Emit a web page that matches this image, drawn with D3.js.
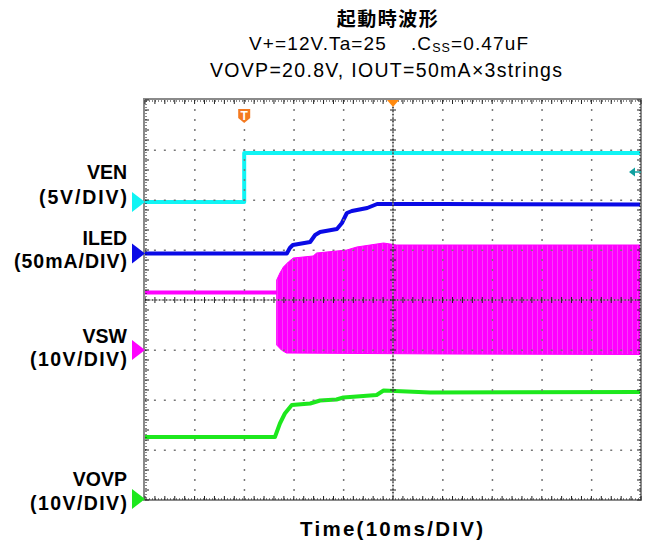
<!DOCTYPE html>
<html><head><meta charset="utf-8">
<script src="https://cdn.jsdelivr.net/npm/d3@7"></script>
<style>
body{margin:0;background:#fff;}
svg{display:block;font-family:"Liberation Sans",Arial,sans-serif;}
</style>
</head><body>
<svg id="c" width="648" height="547"></svg>
<script>
// ---------- data ----------
const channels = ["VEN", "ILED", "VSW", "VOVP"];
const scaleLabels = ["(5V/DIV)", "(50mA/DIV)", "(10V/DIV)", "(10V/DIV)"];
const unitsPerDiv = [5, 50, 10, 10];
const groundDiv = [1.96, 0.93, -1.0, -3.98];
const colors = ["#10f4f4", "#0a0ae6", "#ff00ff", "#1de81d"];

const timeTicks = [0, 10, 20, 30, 40, 50, 60, 70, 80, 90, 100]; // ms
const divTicks = [-4, -3, -2, -1, 0, 1, 2, 3, 4];

const venT = [0, 20, 20, 100];
const venV = [0, 0, 4.9, 4.9];

const iledT = [0, 28.6, 29.2, 29.8, 33.3, 34.3, 35.3, 38.7, 39.7, 40.7, 41.7, 44.8, 46.8, 60, 100];
const iledV = [0, 0, 5.5, 8.5, 11.5, 18.5, 21.5, 24.5, 30.5, 40.5, 42.5, 45.5, 49.5, 49.5, 49];

const vswBaseT = [0, 26.6];
const vswBaseV = [11.5, 11.5];
const vswTopT = [26.55, 27.2, 27.9, 28.9, 29.9, 33.9, 34.6, 40.7, 42.7, 48.1, 50.7, 57.5, 100];
const vswTopV = [14, 15.4, 16.6, 17.6, 18.4, 18.8, 19.4, 20, 20.6, 21.4, 21, 21, 21];
const vswBotT = [26.55, 27.5, 28.5, 60, 100];
const vswBotV = [1, 0, -0.6, -0.8, -0.9];

const vovpT = [0, 26.2, 27.2, 28.2, 29.6, 33.3, 35.3, 38.6, 40, 46.7, 48.1, 57.5, 100];
const vovpV = [12.4, 12.4, 15.1, 17.1, 18.8, 19.1, 19.7, 19.9, 20.3, 20.8, 21.7, 21.3, 21.4];

const triggerTime = 20;     // ms
const triggerLevel = 3.0;   // V on VEN
const horizPos = 50;        // ms

// ---------- layout ----------
const L = 145, R = 641, T = 100, B = 500;
const svg = d3.select("#c");
const x = d3.scaleLinear().domain([0, 100]).range([L, R]);
const y = d3.scaleLinear().domain([-4, 4]).range([B, T]);
const yCh = (i, v) => y(groundDiv[i] + v / unitsPerDiv[i]);

// ---------- titles ----------
svg.append("text").attr("x", 388).attr("y", 26).attr("text-anchor", "middle")
  .attr("font-family", "'Noto Sans CJK JP', sans-serif").attr("font-weight", "bold")
  .attr("font-size", 19).attr("letter-spacing", 1.5).text("起動時波形");
const t2 = svg.append("text").attr("x", 249).attr("y", 50).attr("font-size", 19)
  .attr("textLength", 279).attr("lengthAdjust", "spacing");
t2.append("tspan").text("V+=12V.Ta=25");
t2.append("tspan").attr("dx", 24).text(".C");
t2.append("tspan").attr("font-size", 12.5).attr("dy", 2).text("SS");
t2.append("tspan").attr("dy", -2).text("=0.47uF");
svg.append("text").attr("x", 210).attr("y", 77).attr("font-size", 19.5)
  .attr("textLength", 352).attr("lengthAdjust", "spacing")
  .text("VOVP=20.8V, IOUT=50mA\u00d73strings");

// ---------- traces ----------
const gTr = svg.append("g");
const line = d3.line().x(d => x(d[0])).y(d => d[1]);

// VSW band
const topPts = vswTopT.map((t, k) => [t, yCh(2, vswTopV[k])]);
const botPts = vswBotT.map((t, k) => [t, yCh(2, vswBotV[k])]).reverse();
const defs = svg.append("defs");
const pat = defs.append("pattern").attr("id", "streak").attr("patternUnits", "userSpaceOnUse")
  .attr("width", 5).attr("height", 6);
pat.append("rect").attr("width", 5).attr("height", 6).attr("fill", "#ff00ff");
pat.append("rect").attr("x", 2).attr("width", 1).attr("height", 6).attr("fill", "#f070f0").attr("opacity", 0.55);
gTr.append("path").attr("d", line(topPts.concat(botPts)) + "Z")
  .attr("fill", "url(#streak)").attr("stroke", "#ff00ff").attr("stroke-width", 1);
gTr.append("path").attr("d", line(vswBaseT.map((t, k) => [t, yCh(2, vswBaseV[k])])))
  .attr("fill", "none").attr("stroke", colors[2]).attr("stroke-width", 4);

const traces = [
  [0, venT, venV], [1, iledT, iledV], [3, vovpT, vovpV]
];
traces.forEach(([i, ts, vs]) => {
  gTr.append("path").attr("d", line(ts.map((t, k) => [t, yCh(i, vs[k])])))
    .attr("fill", "none").attr("stroke", colors[i]).attr("stroke-width", 4)
    .attr("stroke-linejoin", "round");
});

// ---------- grid ----------
const gG = svg.append("g");
const minorX = d3.range(0, 100.01, 2);
const minorY = d3.range(-4, 4.001, 0.2);
timeTicks.filter(t => t > 0 && t < 100 && t !== 50).forEach(t => {
  minorY.forEach(d => {
    gG.append("rect").attr("x", x(t) - 0.5).attr("y", y(d) - 1).attr("width", 1.5).attr("height", 2).attr("fill", "#777");
  });
});
divTicks.filter(d => d > -4 && d < 4 && d !== 0).forEach(d => {
  minorX.forEach(t => {
    gG.append("rect").attr("x", x(t) - 1).attr("y", y(d) - 0.5).attr("width", 2).attr("height", 1.5).attr("fill", "#777");
  });
});
gG.append("line").attr("x1", x(50)).attr("x2", x(50)).attr("y1", T).attr("y2", B).attr("stroke", "#999").attr("stroke-width", 1);
gG.append("line").attr("x1", L).attr("x2", R).attr("y1", y(0)).attr("y2", y(0)).attr("stroke", "#999").attr("stroke-width", 1);
gG.append("line").attr("x1", x(50)).attr("x2", x(50)).attr("y1", T).attr("y2", B).attr("stroke", "#111").attr("stroke-width", 1.2).attr("stroke-dasharray", "1.2,2.3");
gG.append("line").attr("x1", L).attr("x2", R).attr("y1", y(0)).attr("y2", y(0)).attr("stroke", "#111").attr("stroke-width", 1.2).attr("stroke-dasharray", "1.2,2.3");
minorY.forEach(d => gG.append("line").attr("x1", x(50) - 3).attr("x2", x(50) + 3).attr("y1", y(d)).attr("y2", y(d)).attr("stroke", "#222").attr("stroke-width", 1));
minorX.forEach(t => gG.append("line").attr("x1", x(t)).attr("x2", x(t)).attr("y1", y(0) - 3).attr("y2", y(0) + 3).attr("stroke", "#222").attr("stroke-width", 1));
gG.append("rect").attr("x", L - 1).attr("y", T - 1).attr("width", R - L + 1).attr("height", B - T + 1)
  .attr("fill", "none").attr("stroke", "#8a8a8a").attr("stroke-width", 2);
[[L + 1, T + 1, R - 1, T + 1], [L + 1, B - 1, R - 1, B - 1], [L + 1, T + 1, L + 1, B - 1], [R - 1, T + 1, R - 1, B - 1]]
  .forEach(([a, b, c, e]) => gG.append("line").attr("x1", a).attr("y1", b).attr("x2", c).attr("y2", e)
    .attr("stroke", "#111").attr("stroke-width", 1).attr("stroke-dasharray", "1,2"));
minorX.forEach(t => {
  gG.append("line").attr("x1", x(t)).attr("x2", x(t)).attr("y1", T).attr("y2", T + 4).attr("stroke", "#222");
  gG.append("line").attr("x1", x(t)).attr("x2", x(t)).attr("y1", B - 4).attr("y2", B).attr("stroke", "#222");
});
minorY.forEach(d => {
  gG.append("line").attr("x1", L).attr("x2", L + 4).attr("y1", y(d)).attr("y2", y(d)).attr("stroke", "#222");
  gG.append("line").attr("x1", R - 4).attr("x2", R).attr("y1", y(d)).attr("y2", y(d)).attr("stroke", "#222");
});

// ---------- markers ----------
channels.forEach((c, i) => {
  const gy = y(groundDiv[i]);
  svg.append("path").attr("d", `M${L},${gy} L${L - 13},${gy - 10} L${L - 13},${gy + 10} Z`).attr("fill", colors[i]);
});
const tx = x(triggerTime);
svg.append("path").attr("d", `M${tx - 6},${T + 9} h12 v9 l-6,5 l-6,-5 Z`).attr("fill", "#f47a20");
svg.append("text").attr("x", tx).attr("y", T + 20).attr("text-anchor", "middle").attr("font-size", 12)
  .attr("font-weight", "bold").attr("fill", "#fff").text("T");
const hx = x(horizPos);
svg.append("path").attr("d", `M${hx - 6},${T} h12 l-6,7 Z`).attr("fill", "#ff8a10");
const ly = yCh(0, triggerLevel);
svg.append("path").attr("d", `M${R - 12},${ly} l6,-4.5 v9 Z`).attr("fill", "#10a0a0");
svg.append("line").attr("x1", R - 7).attr("x2", R).attr("y1", ly).attr("y2", ly).attr("stroke", "#10a0a0").attr("stroke-width", 1.5);

// ---------- channel labels ----------
const labelBase = [[179, 204], [245, 268], [343, 366], [486, 510]];
const scaleW = [88, 113, 97, 97];
channels.forEach((c, i) => {
  svg.append("text").attr("x", 127).attr("y", labelBase[i][0]).attr("text-anchor", "end")
    .attr("font-size", 19.5).attr("font-weight", "bold").text(c);
  svg.append("text").attr("x", 127 - scaleW[i]).attr("y", labelBase[i][1])
    .attr("font-size", 19.5).attr("font-weight", "bold")
    .attr("textLength", scaleW[i]).attr("lengthAdjust", "spacing").text(scaleLabels[i]);
});

// ---------- x-axis label ----------
svg.append("text").attr("x", 300).attr("y", 536).attr("font-size", 20.5).attr("font-weight", "bold")
  .attr("textLength", 183).attr("lengthAdjust", "spacing").text("Time(10ms/DIV)");
</script>
</body></html>
